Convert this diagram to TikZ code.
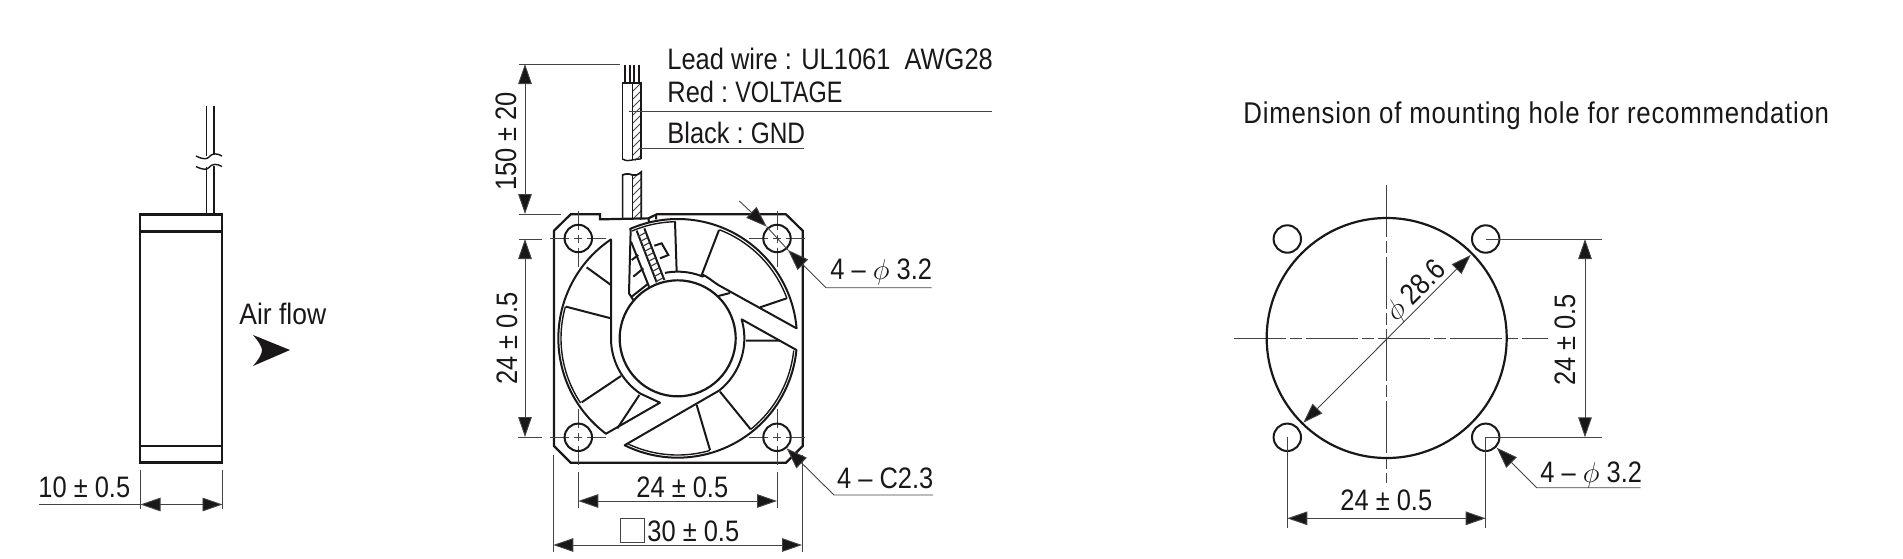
\documentclass[tikz,border=0pt]{standalone}
\usepackage{graphicx}
\usepackage{fontspec}
\setmainfont{Liberation Sans}[FakeStretch=0.86]
\newfontfamily\ttlfont{Liberation Sans}[FakeStretch=0.86,LetterSpace=2.5]
\usetikzlibrary{arrows.meta}
\definecolor{ink}{HTML}{1A1718}
\definecolor{thingray}{HTML}{444444}
\tikzset{
  x=0.5pt,y=-0.5pt,
  obj/.style={draw=ink,line width=1.1pt,line join=miter},
  dbl/.style={draw=ink,line width=0.7pt},
  blade/.style={draw=ink,line width=1pt},
  thinl/.style={draw=thingray,line width=0.45pt},
  dim/.style={thinl,{Triangle[length=10pt,width=6.8pt,fill=ink]}-{Triangle[length=10pt,width=6.8pt,fill=ink]}},
  lead/.style={thinl,{Triangle[length=10.5pt,width=7.4pt,fill=ink]}-},
  lbl/.style={anchor=base west,inner sep=0pt,text=ink,font=\fontsize{14.8}{16}\selectfont},
  rlbl/.style={anchor=center,inner sep=0pt,text=ink,font=\fontsize{14.8}{16}\selectfont},
}
\begin{document}
\begin{tikzpicture}
\useasboundingbox (0,0) rectangle (1903,558);
% ---------- side view ----------
\draw[obj] (140,214.5) rectangle (222,462.5);
\draw[obj] (140,231.5) -- (222,231.5);
\draw[obj] (140,446) -- (222,446);
\draw[dbl] (206.5,105.5) -- (206.5,156) (214,105.5) -- (214,155);
\draw[dbl] (206.5,166.5) -- (206.5,214) (214,165.5) -- (214,214);
\draw[dbl] (196,156) .. controls (204,160) and (207,159) .. (209,157) .. controls (212,153) and (217,153) .. (222,156);
\draw[dbl] (196,166.5) .. controls (204,170.5) and (207,169.5) .. (209,167.5) .. controls (212,163.5) and (217,163.5) .. (222,166.5);
\coordinate (sa) at (140.5,504.5); \coordinate (sb) at (222.5,504.5);
\draw[thinl] (140.5,469.5) -- (140.5,509) (222.5,469.5) -- (222.5,509) (39,504.5) -- (sa);
\draw[dim] (sa) -- (sb);
\node[lbl] (sw) at (38,497) {10 ± 0.5};
\node[lbl] (af) at (239,324) {\scalebox{1.04}[1]{Air flow}};
\fill[ink] (290,350) -- (253,335) .. controls (259,342) and (262,347) .. (262,350) .. controls (262,354) and (259,359) .. (253,366) -- cycle;
% ---------- lead wire ----------
\begin{scope}
\clip (632.4,83) rectangle (641.2,219);
\foreach \i in {0,...,18} \draw[thinl] (628,{96+\i*8}) -- (645,{79+\i*8});
\end{scope}
\fill[white] (619,159.5) .. controls (627,162) and (634,162) .. (644,158) -- (644,174) .. controls (634,178) and (627,176) .. (619,175) -- cycle;
\draw[draw=ink,line width=1pt] (625.4,64.5) -- (625.4,83) (630.3,64.5) -- (630.3,83) (634.2,64.5) -- (634.2,83) (639.1,64.5) -- (639.1,83);
\draw[obj,line width=0.85pt] (622.6,159.5) -- (622.6,83) -- (641.2,83) -- (641.2,159);
\draw[dbl] (632.4,83) -- (632.4,160);
\draw[dbl] (622.6,159) .. controls (626,161) and (629,161) .. (632.4,160) .. controls (635,159) and (638,159) .. (641.2,159);
\draw[obj,line width=0.85pt] (622.6,219) -- (622.6,175) .. controls (626,173.5) and (629,173.5) .. (632.4,175) .. controls (635,176) and (638,175) .. (641.2,172) -- (641.2,219);
\draw[dbl] (632.4,175) -- (632.4,219);
\coordinate (la) at (525,64); \coordinate (lb) at (525,214);
\draw[thinl] (519,64) -- (620,64) (519,214) -- (560.5,214);
\draw[dim] (la) -- (lb);
\node[rlbl,rotate=90] (t150) at (506,141.5) {150 ± 20};
\node[lbl] (t1) at (667,69.8) {Lead wire : UL1061\ \ AWG28};
\node[lbl] (t2) at (667,102.5) {Red : \kern-1.2pt\scalebox{0.92}[1]{VOLTAGE}};
\node[lbl] (t3) at (667,143) {Black : \kern-1.2pt\scalebox{0.96}[1]{GND}};
\draw[thinl] (628.6,111) -- (992,111) (639,148.3) -- (804,148.3);
% ---------- fan ----------
\begin{scope}[shift={(540,190)},x=0.1666667pt,y=-0.1666667pt]
\draw[obj] (180,73) -- (92,73) -- (42,122) -- (42,768) -- (92,818) -- (738,818) -- (788,768) -- (788,122) -- (738,73) -- (350,73) -- (325,85) -- (180,88) -- cycle;
\draw[blade] (325,85) -- (327,96) (348,74) -- (348,88);
% region A
\draw[blade,line join=round] (272,118) -- plot[domain=-113.5:-4.8,samples=60] ({413+358*cos(\x)},{445+358*sin(\x)}) -- (535,285) .. controls (515,272) and (505,262) .. (490,255) -- plot[domain=-67.9:-101,samples=16] ({413+200*cos(\x)},{445+200*sin(\x)});
\draw[dbl] plot[domain=-113:-91,samples=12] ({413+350*cos(\x)},{445+350*sin(\x)});
\draw[dbl] plot[domain=-69:-20,samples=24] ({413+349*cos(\x)},{445+349*sin(\x)});
\draw[blade] (405,95) -- (410,245) (537,120) -- (485,255) (740,325) -- (660,352) (535,318) -- (570,309);
\draw[blade] (343,167) -- (365,160) -- (385,195) -- (360,205);
% hatched bar and ladder
\draw[blade] (272,118) -- (267,310) -- (280,330);
\draw[blade] (290,122) -- (350,277) (313,115) -- (373,270);
\draw[blade] (273,155) -- (327,290);
\draw[blade] (275,210) -- (295,195) (280,260) -- (310,235) (275,320) -- (322,283);
\foreach \i in {0,...,9} \draw[thinl,line width=0.6pt] ({294+\i*6},{140+\i*15}) -- ({316+\i*6},{128+\i*15});
% region B
\draw[blade,line join=round] (213,150) -- (213,445) -- plot[domain=180:124,samples=24] ({413+200*cos(\x)},{445+200*sin(\x)}) -- (360,638) -- (200,730) -- plot[domain=126.8:235.9,samples=60] ({413+358*cos(\x)},{445+358*sin(\x)}) -- cycle;
\draw[dbl] plot[domain=146.3:195.8,samples=24] ({413+350*cos(\x)},{445+350*sin(\x)});
\draw[blade] (140,232) -- (213,285) (78,350) -- (213,385) (243,558) -- (125,637) (298,615) -- (232,715);
% region C
\draw[blade,line join=round] (605,388) -- plot[domain=-16.5:51.6,samples=30] ({413+200*cos(\x)},{445+200*sin(\x)}) -- (255,765) -- plot[domain=116.3:5.6,samples=60] ({413+358*cos(\x)},{445+358*sin(\x)}) -- cycle;
\draw[dbl] plot[domain=6:51.3,samples=24] ({413+350*cos(\x)},{445+350*sin(\x)});
\draw[dbl] plot[domain=74:115,samples=24] ({413+350*cos(\x)},{445+350*sin(\x)});
\draw[blade] (470,645) -- (510,780) (540,605) -- (632,718) (618,452) -- (720,452);
% hub
\draw[obj] (413,445) circle[radius=87pt/3];
\end{scope}
% holes with centre marks
\foreach \n/\cx/\cy in {ha/578.3/238.5,hb/777/238.5,hc/578.3/437.3,hd/777/437.3}{
  \draw[thinl] (\cx-28,\cy) -- (\cx-9,\cy) (\cx-4,\cy) -- (\cx+4,\cy) (\cx+9,\cy) -- (\cx+28,\cy)
               (\cx,\cy-28) -- (\cx,\cy-9) (\cx,\cy-4) -- (\cx,\cy+4) (\cx,\cy+9) -- (\cx,\cy+28);
  \node[draw=ink,line width=1pt,circle,minimum size=13.7pt,inner sep=0pt] (\n) at (\cx,\cy) {};
}
% fan dimensions
\coordinate (fa) at (525,239); \coordinate (fb) at (525,437);
\draw[thinl] (519,239) -- (542,239) (518,437) -- (542,437);
\draw[dim] (fa) -- (fb);
\node[rlbl,rotate=90] (t24a) at (507,338.5) {24 ± 0.5};
\coordinate (fc) at (578.3,501); \coordinate (fd) at (777,501);
\draw[thinl] (578.3,472) -- (578.3,508) (777,472) -- (777,508);
\draw[dim] (fc) -- (fd);
\node[lbl] (t24b) at (636,497) {24 ± 0.5};
\coordinate (fe) at (553.3,545); \coordinate (ff) at (802,545);
\draw[thinl] (553.3,455) -- (553.3,551.7) (802,455) -- (802,551.7);
\draw[dim] (fe) -- (ff);
\draw[thinl,line width=0.5pt] (620,518.3) rectangle (644.3,542.3);
\node[lbl] (t30) at (647,541.7) {30 ± 0.5};
\coordinate (ga) at (766.7,226.7); \coordinate (gb) at (739.3,201);
\coordinate (gc) at (788,250); \coordinate (gd) at (826,287.7); \coordinate (ge) at (931.7,287.7);
\draw[lead] (ga) -- (gb);
\draw[thinl] (ga) -- (gc);
\draw[lead] (gc) -- (gd) -- (ge);
\node[lbl] (t32a) at (830,279) {4 -- $\phi$ 3.2};
\coordinate (ja) at (786.7,448.3); \coordinate (jb) at (834,495); \coordinate (jc) at (933,495);
\draw[lead] (ja) -- (jb) -- (jc);
\node[lbl] (tc) at (836.7,488) {4 -- C2.3};
% ---------- mounting hole ----------
\node[lbl,font=\ttlfont\fontsize{15}{17}\selectfont] (title) at (1243,123) {Dimension of mounting hole for recommendation};
\draw[thinl,dash pattern=on 26pt off 2pt on 6pt off 2pt] (1386.7,185) -- (1386.7,483);
\draw[thinl,dash pattern=on 26pt off 2pt on 6pt off 2pt] (1234,338) -- (1548,338);
\draw[obj] (1386.7,338) circle[radius=60pt];
\foreach \n/\cx/\cy in {ka/1287.3/239,kb/1485.7/239,kc/1287.3/437.3,kd/1485.7/437.3}{
  \node[draw=ink,line width=1pt,circle,minimum size=13.7pt,inner sep=0pt] (\n) at (\cx,\cy) {};
}
\coordinate (da) at (1470.7,255); \coordinate (db) at (1303.3,422.7);
\draw[dim] (da) -- (db);
\node[rlbl,rotate=45] (tphi) at (1416.7,291.7) {$\phi$ 28.6};
\coordinate (ra) at (1585,239); \coordinate (rb) at (1585,437.3);
\draw[thinl] (1485.7,239) -- (1602.3,239) (1485.7,437.3) -- (1602.3,437.3);
\draw[dim] (ra) -- (rb);
\node[rlbl,rotate=90] (t24c) at (1565,340) {24 ± 0.5};
\coordinate (ba) at (1287.3,518.3); \coordinate (bb) at (1485.7,518.3);
\draw[thinl] (1287.3,437.3) -- (1287.3,528) (1485.7,437.3) -- (1485.7,528);
\draw[dim] (ba) -- (bb);
\node[lbl] (t24d) at (1340,510) {24 ± 0.5};
\coordinate (ma) at (1496.7,447.7); \coordinate (mb) at (1536.7,487.7); \coordinate (mc) at (1640.7,487.7);
\draw[lead] (ma) -- (mb) -- (mc);
\node[lbl] (t32b) at (1540,482) {4 -- $\phi$ 3.2};
\end{tikzpicture}
\end{document}
